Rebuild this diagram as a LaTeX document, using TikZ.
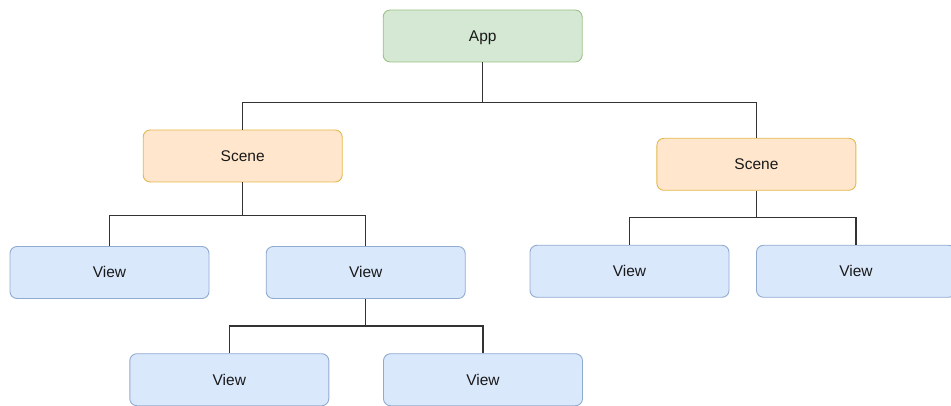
\documentclass[tikz,border=0pt]{standalone}
\usepackage{fontspec}
\setmainfont{Liberation Sans}
\definecolor{appfill}{HTML}{D5E8D4}
\definecolor{appline}{HTML}{82B366}
\definecolor{scenefill}{HTML}{FFE6CC}
\definecolor{sceneline}{HTML}{D79B00}
\definecolor{viewfill}{HTML}{DAE8FC}
\definecolor{viewline}{HTML}{6C8EBF}
\definecolor{wire}{HTML}{333333}
\begin{document}
\begin{tikzpicture}[x=1pt,y=-1pt,
  box/.style={rounded corners=7pt, minimum width=199pt, minimum height=52pt,
    inner sep=0pt, line width=0.9pt, font=\fontsize{15.5}{18}\selectfont,
    text=black!90, text height=11pt, text depth=0pt},
  appbox/.style={box, fill=appfill, draw=appline!80},
  scenebox/.style={box, fill=scenefill, draw=sceneline!70},
  viewbox/.style={box, fill=viewfill, draw=viewline!75},
  link/.style={draw=wire, line width=1.2pt}]
  \useasboundingbox (0,0) rectangle (951,406);
  \clip (0,0) rectangle (951,406);
  \fill[white] (0,0) rectangle (951,406);

  % tree nodes
  \node[appbox]   (app)    at (482.7,36)  {App};
  \node[scenebox] (sceneL) at (242.7,156) {Scene};
  \node[scenebox] (sceneR) at (756.4,164.3) {Scene};
  \node[viewbox]  (viewA)  at (109.5,272.5) {View};
  \node[viewbox]  (viewB)  at (365.7,272.5) {View};
  \node[viewbox]  (viewC)  at (629.5,271.3) {View};
  \node[viewbox]  (viewD)  at (856,271.3) {View};
  \node[viewbox]  (viewE)  at (229.3,379.7) {View};
  \node[viewbox]  (viewF)  at (483,379.7) {View};

  % orthogonal connectors: a stem from the parent, then one bus to both children
  \draw[link] (app.south) -- ++(0,39.7) coordinate (appbus);
  \draw[link] (sceneL.north) |- (appbus) -| (sceneR.north);

  \draw[link] (sceneL.south) -- ++(0,33) coordinate (sLbus);
  \draw[link] (viewA.north) |- (sLbus) -| (viewB.north);

  \draw[link] (sceneR.south) -- ++(0,27) coordinate (sRbus);
  \draw[link] (viewC.north) |- (sRbus) -| (viewD.north);

  \draw[link] (viewB.south) -- ++(0,27) coordinate (vBbus);
  \draw[link] (viewE.north) |- (vBbus) -| (viewF.north);
\end{tikzpicture}
\end{document}
